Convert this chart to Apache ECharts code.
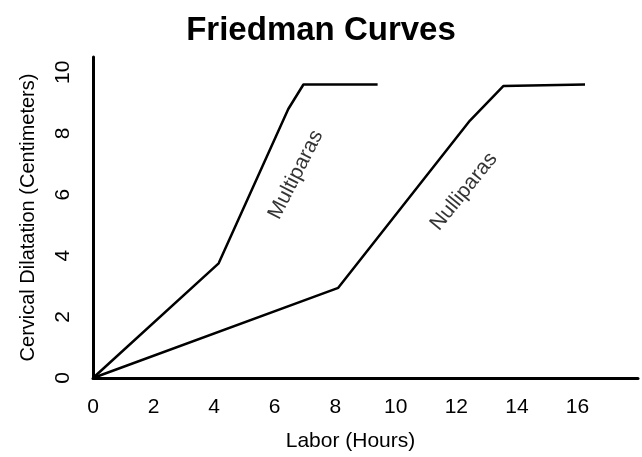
<!DOCTYPE html>
<html>
<head>
<meta charset="utf-8">
<script src="https://cdn.jsdelivr.net/npm/echarts@6/dist/echarts.min.js"></script>
<style>html,body{margin:0;padding:0;background:#fff}#c{width:642px;height:457px}</style>
</head>
<body>
<div id="c"></div>
<script>
var multiparas = [[0,0],[4.15,3.75],[6.45,8.8],[6.95,9.6],[9.4,9.6]];
var nulliparas = [[0,0],[8.1,2.95],[12.45,8.42],[13.55,9.55],[16.25,9.6]];
var curveLabels = [
  {name:'Multiparas', x:6.7, y:6.65, angle:63},
  {name:'Nulliparas', x:12.25, y:6.1, angle:51}
];
var xTicks = [0,2,4,6,8,10,12,14,16];
var yTicks = [0,2,4,6,8,10];

var font = 'Liberation Sans, Arial, Helvetica, sans-serif';
var chart = echarts.init(document.getElementById('c'));
chart.setOption({
  animation:false,
  backgroundColor:'#fff',
  title:{text:'Friedman Curves', left:'center', top:9,
    textStyle:{fontFamily:font, fontWeight:'bold', fontSize:33, color:'#000'}},
  grid:{left:93, right:4, top:57, bottom:74, containLabel:false},
  xAxis:{type:'value', min:0, max:18, interval:2,
    name:'Labor (Hours)', nameLocation:'middle', nameGap:53,
    nameTextStyle:{fontFamily:font, fontSize:21, color:'#000', padding:[0,30,0,0]},
    axisLine:{show:true, lineStyle:{color:'#000', width:3}},
    axisTick:{show:false}, splitLine:{show:false},
    axisLabel:{fontFamily:font, fontSize:21, color:'#000', margin:19, showMaxLabel:false,
      formatter:function(v){return xTicks.indexOf(v)>=0 ? String(v) : '';}}},
  yAxis:{type:'value', min:0, max:10.5, interval:2,
    name:'Cervical Dilatation (Centimeters)', nameLocation:'middle', nameGap:55, nameRotate:90,
    nameTextStyle:{fontFamily:font, fontSize:20, color:'#000'},
    axisLine:{show:true, lineStyle:{color:'#000', width:3}},
    axisTick:{show:false}, splitLine:{show:false},
    axisLabel:{fontFamily:font, fontSize:21, color:'#000', margin:19, rotate:90, showMaxLabel:false,
      formatter:function(v){return yTicks.indexOf(v)>=0 ? String(v) : '';}}},
  series:[
    {type:'line', data:multiparas, symbol:'none', lineStyle:{color:'#000', width:2.5}},
    {type:'line', data:nulliparas, symbol:'none', lineStyle:{color:'#000', width:2.5}},
    {type:'scatter', symbolSize:0, silent:true,
      data:curveLabels.map(function(d){return {value:[d.x,d.y], name:d.name,
        label:{show:true, position:'inside', formatter:d.name, rotate:d.angle,
          fontFamily:font, fontSize:21, color:'#000', textBorderWidth:0}};})}
  ]
});
</script>
</body>
</html>
